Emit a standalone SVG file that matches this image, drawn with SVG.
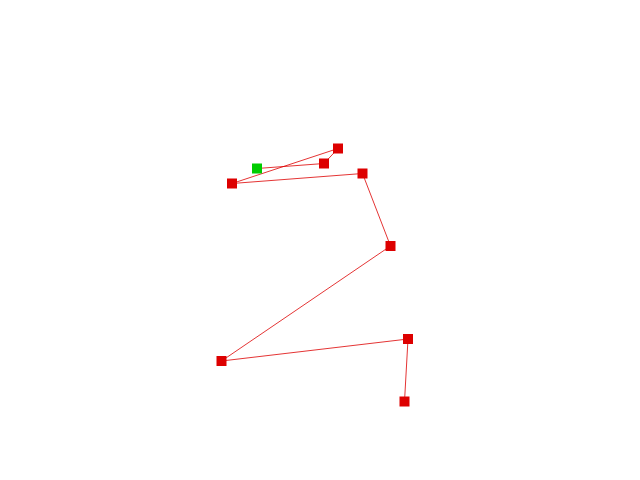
<svg xmlns="http://www.w3.org/2000/svg" width="640" height="480" viewBox="0 0 640 480">
<style>
.n{fill:#dd0000}
.s{fill:#00cc00}
.e{stroke:#dd0000;stroke-width:0.8;fill:none}
</style>
<rect width="640" height="480" fill="#fff"/>
<g id="connectors">
<polyline class="e" points="257,168.5 324,163.5 338,148.5 232,183.5 362.5,173.5 390.5,246 221.5,361 408,339 404.5,401.5"/>
</g>
<g id="n0"><rect class="s" x="252" y="163.5" width="10" height="10"/></g>
<g id="n1"><rect class="n" x="319" y="158.5" width="10" height="10"/></g>
<g id="n2"><rect class="n" x="333" y="143.5" width="10" height="10"/></g>
<g id="n3"><rect class="n" x="227" y="178.5" width="10" height="10"/></g>
<g id="n4"><rect class="n" x="357.5" y="168.5" width="10" height="10"/></g>
<g id="n5"><rect class="n" x="385.5" y="241" width="10" height="10"/></g>
<g id="n6"><rect class="n" x="216.5" y="356" width="10" height="10"/></g>
<g id="n7"><rect class="n" x="403" y="334" width="10" height="10"/></g>
<g id="n8"><rect class="n" x="399.5" y="396.5" width="10" height="10"/></g>
</svg>
